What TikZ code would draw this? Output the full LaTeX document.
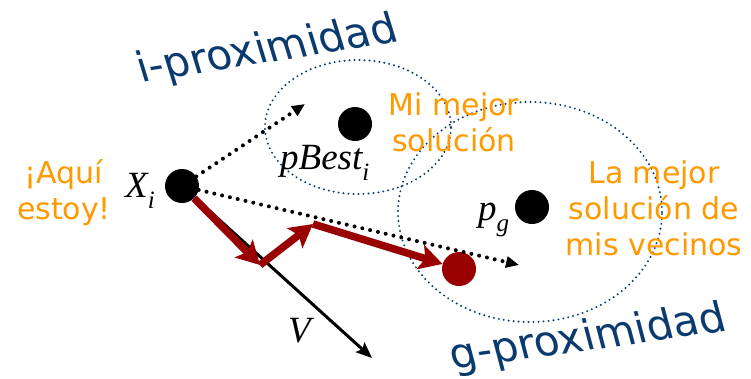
\documentclass[tikz,border=0pt]{standalone}
\usepackage{fontspec}
\setmainfont{DejaVu Sans}
\newfontfamily\lblfont{Liberation Serif}
\usetikzlibrary{arrows.meta}

\definecolor{navy}{HTML}{0B3B6E}
\definecolor{amber}{HTML}{FF9900}
\definecolor{maroon}{HTML}{990000}

\newcommand{\withsub}[2]{#1\raisebox{-11pt}{\fontsize{25}{25}\selectfont #2}}

\begin{document}
\begin{tikzpicture}[x=1pt, y=-1pt,
	dot/.style={circle, fill=#1, minimum size=34pt, inner sep=0pt},
	dot/.default=black,
	hood/.style={navy, line width=2.2pt, line cap=round, dash pattern=on 0pt off 5pt},
	hoodname/.style={navy, anchor=base, inner sep=0pt, font=\fontsize{42}{42}\selectfont},
	remark/.style={amber, align=center, inner sep=0pt, font=\fontsize{30}{36}\selectfont},
	sym/.style={anchor=base west, inner sep=0pt, font=\fontsize{37}{37}\selectfont\lblfont\itshape},
	pull/.style={line width=4pt, line cap=round, dash pattern=on 0pt off 8pt, -{Triangle[length=13pt,width=11pt]}},
	move/.style={maroon, line width=7.5pt, -{Stealth[length=23pt,width=25pt,inset=5pt]}}]
		\useasboundingbox (0,0) rectangle (751,378);
		
		% The two neighbourhoods
		\draw[hood] (358,127) ellipse (93pt and 67pt);
		\draw[hood] (530,212) ellipse (132pt and 110pt);
		\node[hoodname, rotate=9, xslant=-0.14] (iprox) at (271,62) {i-proximidad};
		\node[hoodname, rotate=8, xslant=-0.12] (gprox) at (591,350) {g-proximidad};
		
		% Particle, personal best, global best, new position
		\node[dot] (Xi) at (182,186) {};
		\node[dot] (pbest) at (355,124) {};
		\node[dot] (pg) at (532,207) {};
		\node[dot=maroon] (xnew) at (459,269) {};
		
		\node[sym] (lXi) at (125,197) {\withsub{X}{i}};
		\node[sym] (lpbest) at (280,169) {\withsub{pBest}{i}};
		\node[sym] (lpg) at (478,220) {\withsub{p}{g}};
		\node[sym] (lV) at (288,342) {V};
		
		% Orange remarks
		\node[remark] (here) at (64,193) {¡Aquí\\estoy!};
		\node[remark] (mine) at (454,122) {Mi mejor\\solución};
		\node[remark] (theirs) at (654,208) {La mejor\\solución de\\mis vecinos};
		
		% Pulls towards pBest and pg, and the velocity
		\coordinate (toPbest) at (305,104);
		\coordinate (toPg) at (519,265);
		\coordinate (vtip) at (372,358);
		\draw[pull] (Xi) -- (toPbest);
		\draw[pull] (Xi) -- (toPg);
		\draw[line width=3pt, -{Stealth[length=16pt,width=13pt,inset=3pt]}] (Xi) -- (vtip);
		
		% Resulting move
		\coordinate (step1) at (260,265);
		\coordinate (step2) at (313,224);
		\draw[move] (Xi) -- (step1);
		\draw[move] (step1) -- (step2);
		\draw[move] (step2) -- (xnew);
		
	\end{tikzpicture}
\end{document}
